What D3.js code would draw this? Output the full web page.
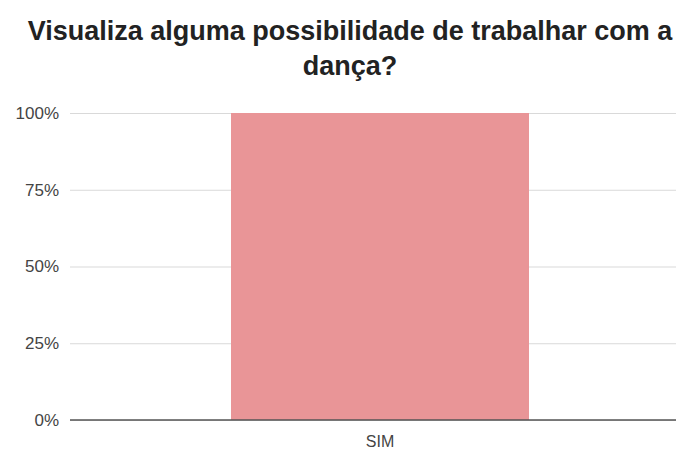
<!DOCTYPE html>
<html>
<head>
<meta charset="utf-8">
<script src="https://cdn.jsdelivr.net/npm/d3@7"></script>
<style>
  html, body { margin: 0; padding: 0; background: #fff; }
  svg { display: block; }
</style>
</head>
<body>
<svg id="chart" width="678" height="453"></svg>
<script>
// Survey answer categories and their share of responses
const categories = ["SIM"];
const shares = [1.0];
const tickValues = [0, 0.25, 0.5, 0.75, 1];
const titleLines = ["Visualiza alguma possibilidade de trabalhar com a", "dança?"];

const W = 678, H = 453;
const plot = { left: 70, right: 676, top: 113, bottom: 420 };
const FONT = "Liberation Sans, Arial, sans-serif";

const svg = d3.select("#chart");

svg.append("rect").attr("width", W).attr("height", H).attr("fill", "#fff");

// Title
svg.append("g")
  .selectAll("text")
  .data(titleLines)
  .join("text")
  .attr("x", 350)
  .attr("y", (d, i) => 40 + i * 35)
  .attr("text-anchor", "middle")
  .attr("font-family", FONT)
  .attr("font-weight", "bold")
  .attr("font-size", 27)
  .attr("fill", "#222")
  .text(d => d);

const y = d3.scaleLinear().domain([0, 1]).range([plot.bottom, plot.top]);
const x = d3.scaleBand()
  .domain(categories)
  .range([82, 678])
  .paddingInner(0.5)
  .paddingOuter(0.25);

// Gridlines and percent labels
const yAxis = d3.axisLeft(y)
  .tickValues(tickValues)
  .tickFormat(d3.format(".0%"))
  .tickSize(-(plot.right - plot.left))
  .tickPadding(11);

const gy = svg.append("g")
  .attr("transform", `translate(${plot.left},0)`)
  .call(yAxis);
gy.select(".domain").remove();
gy.selectAll(".tick line").attr("stroke", "#d9d9d9").attr("stroke-width", 1);
gy.selectAll(".tick text")
  .attr("font-family", FONT)
  .attr("font-size", 17)
  .attr("fill", "#444");

// Bars
svg.append("g")
  .selectAll("rect")
  .data(categories.map((c, i) => ({ c, v: shares[i] })))
  .join("rect")
  .attr("x", d => x(d.c))
  .attr("y", d => y(d.v))
  .attr("width", x.bandwidth())
  .attr("height", d => y(0) - y(d.v))
  .attr("fill", "#e99597");

// Baseline
svg.append("line")
  .attr("x1", plot.left).attr("x2", plot.right)
  .attr("y1", y(0)).attr("y2", y(0))
  .attr("stroke", "#555").attr("stroke-width", 1.5);

// Category labels
svg.append("g")
  .selectAll("text")
  .data(categories)
  .join("text")
  .attr("x", d => x(d) + x.bandwidth() / 2)
  .attr("y", 447)
  .attr("text-anchor", "middle")
  .attr("font-family", FONT)
  .attr("font-size", 16)
  .attr("fill", "#444")
  .text(d => d);
</script>
</body>
</html>
